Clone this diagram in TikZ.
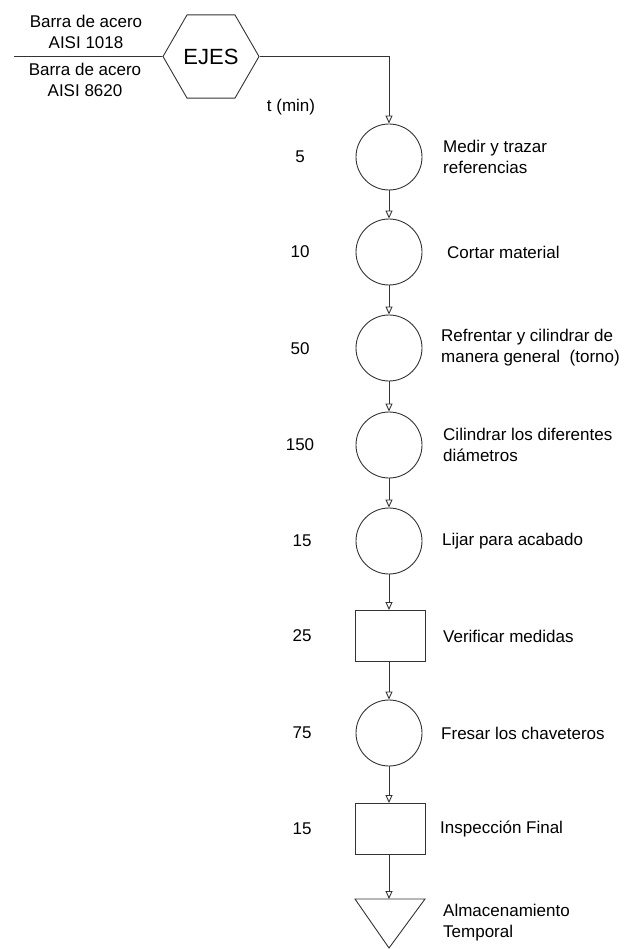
\documentclass[tikz,border=0pt]{standalone}
\usepackage{fontspec}
\setmainfont{Liberation Sans}
\usetikzlibrary{shapes.geometric,arrows.meta}
\begin{document}
\begin{tikzpicture}[x=1pt,y=-1pt,
  every node/.style={font=\fontsize{17}{21}\selectfont},
  line/.style={draw=black!80, line width=0.9pt},
  flow/.style={line, -{Triangle[open,length=8pt,width=7pt]}},
  oper/.style={line, circle, minimum size=66pt, inner sep=0pt},
  insp/.style={line, rectangle, minimum width=70pt, minimum height=51pt, inner sep=0pt},
  desc/.style={anchor=west, align=left, inner sep=0pt},
  tval/.style={inner sep=0pt}]
\useasboundingbox (0,0) rectangle (628,949);

% part and raw materials
\node[line, regular polygon, regular polygon sides=6, minimum size=96pt, inner sep=0pt,
      font=\fontsize{22}{24}\selectfont] (hex) at (211,56.5) {EJES};
\coordinate (inl) at (14,56.5);
\draw[line] (inl) -- (hex.west);
\node[align=center, inner sep=0pt] (m1) at (86,32) {Barra de acero\\AISI 1018};
\node[align=center, inner sep=0pt] (m2) at (85,80) {Barra de acero\\AISI 8620};
\node[tval] (tmin) at (291,107) {t (min)};

% process column
\node[oper] (o1) at (389,157) {};
\node[oper] (o2) at (389,252) {};
\node[oper] (o3) at (389,348) {};
\node[oper] (o4) at (389,445) {};
\node[oper] (o5) at (389,541) {};
\node[insp] (i1) at (390,636) {};
\node[oper] (o6) at (389,733) {};
\node[insp] (i2) at (390,829) {};
\coordinate (alm) at (389,899);
\draw[line] (355,899) -- (425,899) -- (389,948) -- cycle;

% connectors
\draw[flow] (hex.east) -| (o1.north);
\draw[flow] (o1) -- (o2);
\draw[flow] (o2) -- (o3);
\draw[flow] (o3) -- (o4);
\draw[flow] (o4) -- (o5);
\draw[flow] (o5.south) -- (o5.south |- i1.north);
\draw[flow] (o5.south |- i1.south) -- (o6.north);
\draw[flow] (o6.south) -- (o6.south |- i2.north);
\draw[flow] (o6.south |- i2.south) -- (alm);

% times
\node[tval] (t1) at (300,157) {5};
\node[tval] (t2) at (300,252) {10};
\node[tval] (t3) at (300,349) {50};
\node[tval] (t4) at (300,445) {150};
\node[tval] (t5) at (302,541) {15};
\node[tval] (t6) at (302,636) {25};
\node[tval] (t7) at (302,733) {75};
\node[tval] (t8) at (302,829) {15};

% descriptions
\node[desc] (d1) at (443,157) {Medir y trazar\\referencias};
\node[desc] (d2) at (447,252) {Cortar material};
\node[desc] (d3) at (441,348) {Refrentar y cilindrar de\\manera general\ \ (torno)};
\node[desc] (d4) at (443,445) {Cilindrar los diferentes\\diámetros};
\node[desc] (d5) at (442,541) {Lijar para acabado};
\node[desc] (d6) at (443,636) {Verificar medidas};
\node[desc] (d7) at (441,733) {Fresar los chaveteros};
\node[desc] (d8) at (440,829) {Inspección Final};
\node[desc] (d9) at (443,923) {Almacenamiento\\Temporal};
\end{tikzpicture}
\end{document}
